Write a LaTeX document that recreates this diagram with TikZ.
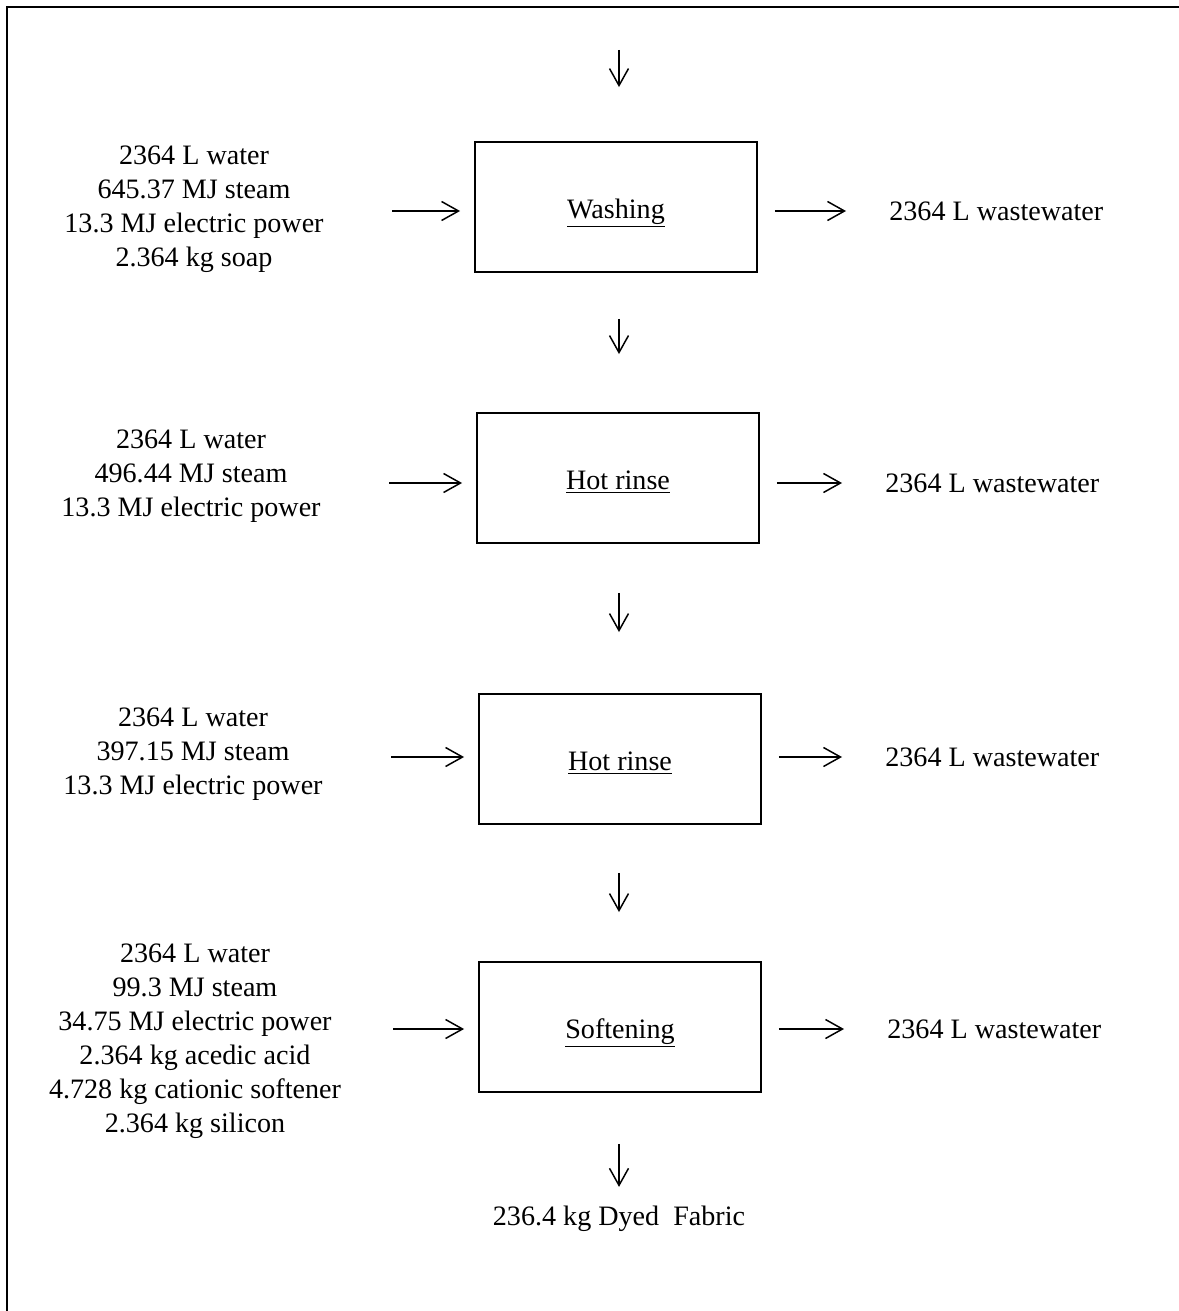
\documentclass[tikz,border=0pt]{standalone}
\usepackage{fontspec}
\setmainfont{Liberation Serif}
\usetikzlibrary{
	arrows.meta,
	calc,
	positioning,
}
\tikzset{step box/.style={draw,rectangle,line width=1.1pt,minimum width=5.64cm,minimum height=2.6cm,inner sep=0mm,text height=0.6cm,text depth=0.15cm,}}
\tikzset{in text/.style={align=flush center,text width=6cm,inner sep=0mm,}}
\tikzset{out text/.style={anchor=west,inner sep=0mm,}}
\tikzset{flow/.style={line width=0.85pt,-{Straight Barb[length=3.4mm,width=3.8mm]}}}
\tikzset{frame/.style={line width=1.7pt}}
\tikzset{
	>=Triangle[],
	font=\fontsize{16}{19.4}\selectfont,
}

\begin{document}
\begin{tikzpicture}[x=0.02cm,y=-0.02cm]
\useasboundingbox (0,0) rectangle (1179,1311);
\draw[frame] (7,1311) -- (7,7) -- (1179,7);

\coordinate(feed) at(619,50);

\node[step box](b1) at(616,207) {\underline{Washing}};
\node[step box](b2) at(618,478) {\underline{Hot rinse}};
\node[step box](b3) at(620,759) {\underline{Hot rinse}};
\node[step box](b4) at(620,1027) {\underline{Softening}};

\node[in text](in1) at(194,209) {2364 L water\\645.37 MJ steam\\13.3 MJ electric power\\2.364 kg soap};
\node[in text](in2) at(191,476) {2364 L water\\496.44 MJ steam\\13.3 MJ electric power};
\node[in text](in3) at(193,754) {2364 L water\\397.15 MJ steam\\13.3 MJ electric power};
\node[in text](in4) at(195,1041) {2364 L water\\99.3 MJ steam\\34.75 MJ electric power\\2.364 kg acedic acid\\4.728 kg cationic softener\\2.364 kg silicon};

\node[out text](out1) at(889,211) {2364 L wastewater};
\node[out text](out2) at(885,483) {2364 L wastewater};
\node[out text](out3) at(885,757) {2364 L wastewater};
\node[out text](out4) at(887,1029) {2364 L wastewater};

\node[inner sep=0mm](fabric) at(619,1219) {236.4 kg Dyed\ \ Fabric};

% main line
\draw[flow,shorten >=1.08cm] (feed) -- (feed |- b1.north);
\draw[flow,shorten <=0.92cm,shorten >=1.16cm] (b1.south -| feed) -- (b2.north -| feed);
\draw[flow,shorten <=0.98cm,shorten >=1.22cm] (b2.south -| feed) -- (b3.north -| feed);
\draw[flow,shorten <=0.96cm,shorten >=0.98cm] (b3.south -| feed) -- (b4.north -| feed);
\draw[flow,shorten <=1.02cm,shorten >=0.38cm] (b4.south -| feed) -- (fabric.north);

% inputs
\foreach \i in {1,...,4}{
	\draw[flow,shorten <=0.96cm,shorten >=0.28cm] (in\i.east |- out\i.west) -- (b\i.west |- out\i.west);
	\draw[flow,shorten <=0.34cm,shorten >=0.86cm] (b\i.east |- out\i.west) -- (out\i.west);
}

\end{tikzpicture}
\end{document}
